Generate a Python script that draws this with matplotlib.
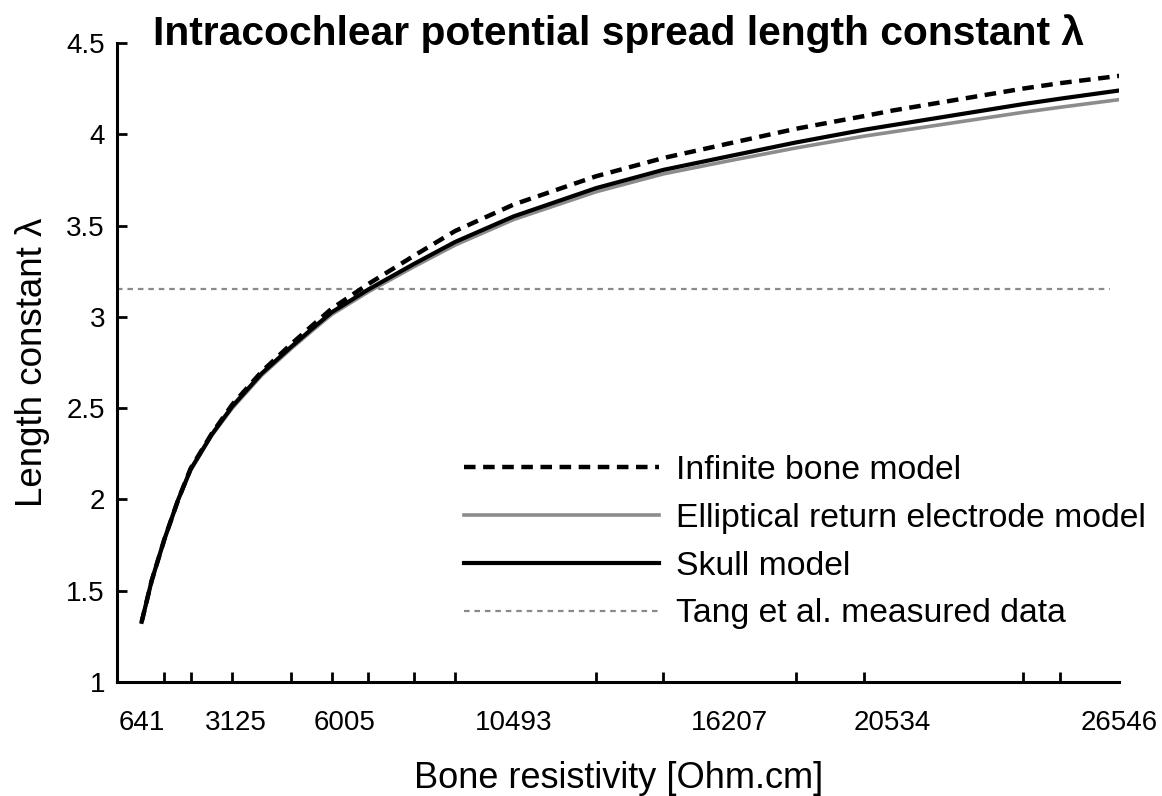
import matplotlib
matplotlib.use('Agg')
import matplotlib.pyplot as plt
from matplotlib.ticker import FixedLocator, NullFormatter

plt.rcParams['font.family'] = ['Liberation Sans', 'DejaVu Sans']

# Bone resistivity values (Ohm.cm)
resistivity = [641, 906, 1240, 1611, 1939, 2496, 3042, 3821, 4597, 5146, 5676,
               6646, 7857, 8943, 10493, 12679, 14463, 16207, 17971, 19789,
               20534, 23986, 24975, 26546]

# Length constant for each model
infinite_bone = [1.33, 1.555, 1.78, 2.0, 2.17, 2.36, 2.52, 2.70, 2.85, 2.95, 3.045,
                 3.18, 3.335, 3.47, 3.615, 3.77, 3.87, 3.95, 4.03, 4.10,
                 4.13, 4.25, 4.28, 4.32]
skull = [1.33, 1.555, 1.78, 2.0, 2.165, 2.355, 2.51, 2.69, 2.835, 2.933, 3.025,
         3.15, 3.29, 3.41, 3.55, 3.705, 3.805, 3.88, 3.955, 4.025,
         4.05, 4.165, 4.195, 4.24]
elliptical = [1.33, 1.555, 1.78, 2.0, 2.16, 2.35, 2.50, 2.68, 2.825, 2.922, 3.013,
              3.137, 3.275, 3.393, 3.533, 3.685, 3.783, 3.855, 3.925, 3.99,
              4.013, 4.12, 4.148, 4.19]

# Measured value from Tang et al.
tang_measured = 3.15

# tick marks on the x axis (simulated resistivities) and the labelled ones
tick_marks = [641, 1240, 1939, 3042, 4597, 5676, 6646, 7857, 8943, 10493,
              12679, 14463, 16207, 17971, 19789, 20534, 23986, 24975, 26546]
label_ticks = [641, 3125, 6005, 10493, 16207, 20534, 26546]

fig = plt.figure(figsize=(11.62, 7.96), dpi=100)
ax = fig.add_axes([0.1011, 0.1432, 0.8623, 0.8028])

ax.plot([0, 26300], [tang_measured, tang_measured], color='#8a8a8a', lw=1.6,
        dashes=(2.5, 2.2), label='Tang et al. measured data', zorder=1)
ax.plot(resistivity, elliptical, color='#8c8c8c', lw=2.6,
        label='Elliptical return electrode model', zorder=2)
ax.plot(resistivity, skull, color='black', lw=3.0, label='Skull model', zorder=3)
ax.plot(resistivity, infinite_bone, color='black', lw=3.2, dashes=(2.6, 1.7),
        label='Infinite bone model', zorder=4)

ax.set_xlim(0, 26546)
ax.set_ylim(1, 4.5)

# tick marks at the simulation points, labels at selected values
ax.xaxis.set_minor_locator(FixedLocator(tick_marks))
ax.xaxis.set_minor_formatter(NullFormatter())
ax.set_xticks(label_ticks)
ax.set_xticklabels([str(v) for v in label_ticks])
ax.tick_params(axis='x', which='major', length=0, pad=20, labelsize=20)
ax.tick_params(axis='x', which='minor', direction='in', length=7, width=2)
ax.set_yticks([1, 1.5, 2, 2.5, 3, 3.5, 4, 4.5])
ax.set_yticklabels(['1', '1.5', '2', '2.5', '3', '3.5', '4', '4.5'])
ax.tick_params(axis='y', direction='in', length=7, width=2, pad=9, labelsize=20)

for side in ['top', 'right']:
    ax.spines[side].set_visible(False)
for side in ['left', 'bottom']:
    ax.spines[side].set_linewidth(2.2)

ax.set_xlabel('Bone resistivity [Ohm.cm]', fontsize=26, labelpad=18)
ax.set_ylabel('Length constant λ', fontsize=26.5, labelpad=12)
ax.set_title('Intracochlear potential spread length constant λ',
             fontsize=29.3, fontweight='bold', pad=0, y=0.997)

handles, labels = ax.get_legend_handles_labels()
order = [3, 1, 2, 0]
ax.legend([handles[i] for i in order], [labels[i] for i in order],
          loc='upper left', bbox_to_anchor=(0.316, 0.403), frameon=False,
          fontsize=24.3, handlelength=5.77, handletextpad=0.5, labelspacing=0.5)

fig.savefig('out.png', dpi=100)
